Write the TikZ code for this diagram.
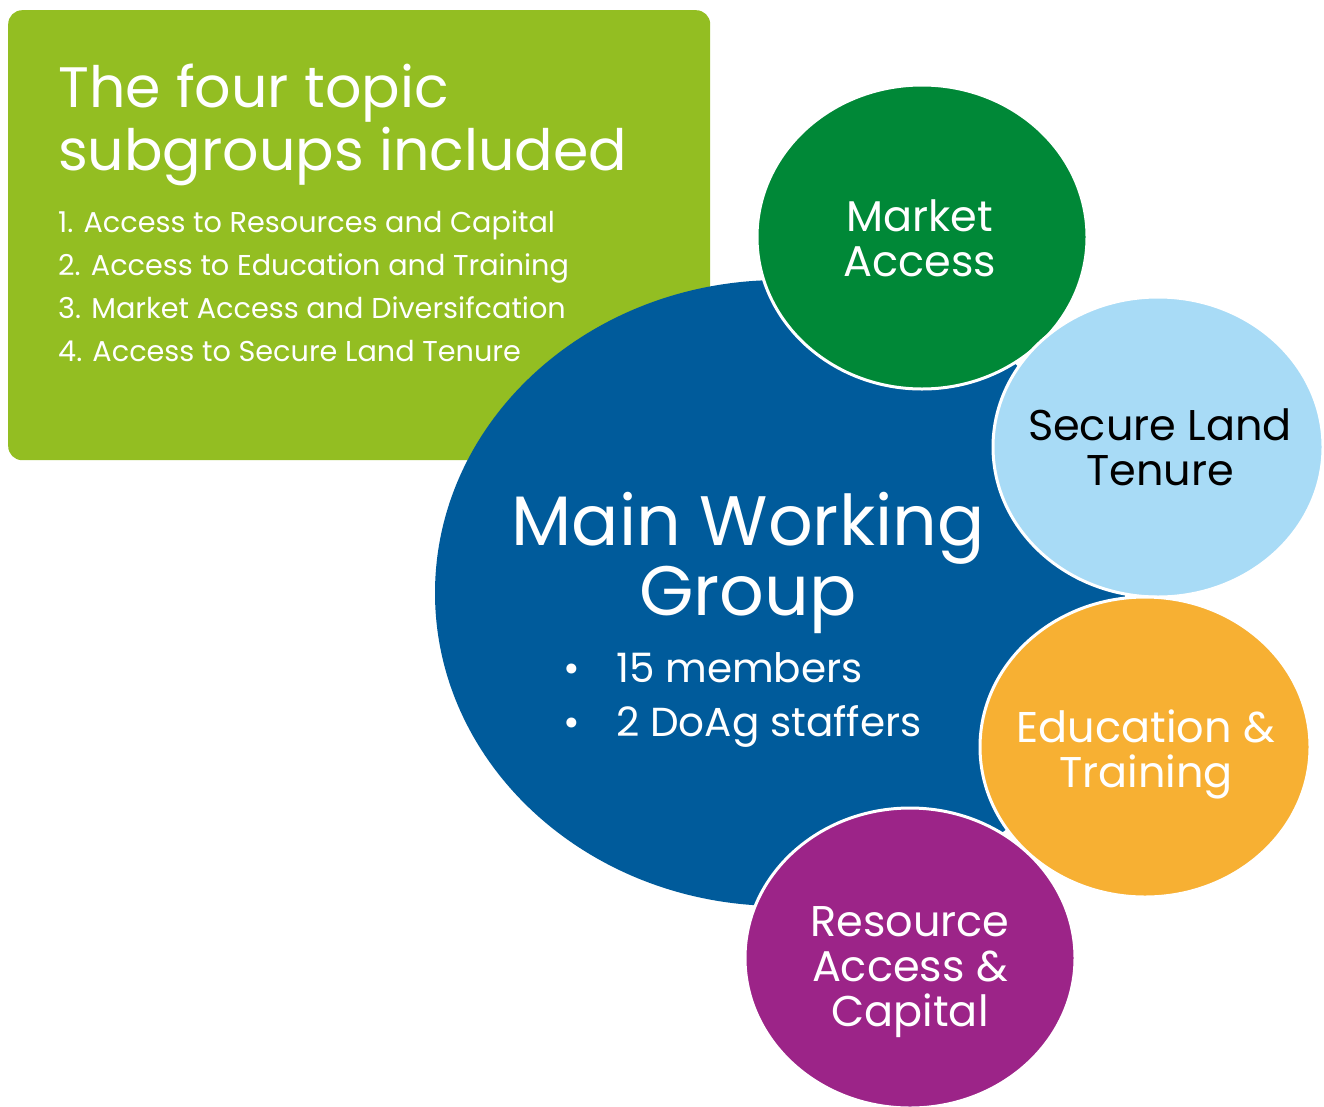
\documentclass[tikz,border=0pt]{standalone}
\usepackage{fontspec}
\setmainfont{Poppins}
\usepackage{xcolor}
\usetikzlibrary{shapes.geometric}

\definecolor{leafgreen}{HTML}{93BE22}
\definecolor{mwgblue}{HTML}{005B9B}
\definecolor{marketgreen}{HTML}{008837}
\definecolor{landblue}{HTML}{A8DBF6}
\definecolor{eduorange}{HTML}{F7B033}
\definecolor{resviolet}{HTML}{9C2488}

\tikzset{
  bubble/.style={ellipse, draw=white, line width=3pt, inner sep=0pt,
    minimum width=330pt, minimum height=300pt},
  bubbletext/.style={align=center, text=white, inner sep=0pt,
    font=\fontsize{43}{45}\selectfont},
}

\begin{document}
\begin{tikzpicture}[x=1pt,y=-1pt]
  \useasboundingbox (0,0) rectangle (1324,1106);

  % topic box
  \node[fill=leafgreen, rounded corners=14pt, anchor=north west,
        minimum width=702pt, minimum height=450pt, inner sep=0pt] (topics) at (8,10) {};
  \node[anchor=north west, align=left, text=white, inner sep=0pt,
        font=\fontsize{57}{63}\selectfont] (title) at (58,64)
        {The four topic\\subgroups included};
  \node[anchor=north west, align=left, text=white, inner sep=0pt,
        font=\fontsize{28.7}{43}\selectfont] (list) at (58,210)
        {1. Access to Resources and Capital\\
         2. Access to Education and Training\\
         3. Market Access and Diversifcation\\
         4. Access to Secure Land Tenure};

  % main group
  \node[ellipse, fill=mwgblue, minimum width=690pt, minimum height=626pt] (main) at (780,593) {};
  \node[text=white, align=center, font=\fontsize{70}{70}\selectfont] (mwg) at (748,563)
        {Main Working\\Group};
  \node[anchor=west, text=white, align=left, font=\fontsize{40.5}{54}\selectfont] (staff) at (560,700)
        {\textbullet\hspace{36pt}15 members\\\textbullet\hspace{36pt}2 DoAg staffers};

  % subgroups
  \node[bubble, fill=marketgreen, minimum height=304pt] (market) at (922,237) {};
  \node[bubbletext] (market-txt) at (920,238) {Market\\Access};
  \node[bubble, fill=landblue] (land) at (1158,447) {};
  \node[bubbletext, text=black] (land-txt) at (1160,447) {Secure Land\\Tenure};
  \node[bubble, fill=eduorange] (edu) at (1145,747) {};
  \node[bubbletext] (edu-txt) at (1146,754) {Education \&\\Training};
  \node[bubble, fill=resviolet] (res) at (910,958) {};
  \node[bubbletext] (res-txt) at (910,972) {Resource\\Access \&\\Capital};
\end{tikzpicture}
\end{document}
